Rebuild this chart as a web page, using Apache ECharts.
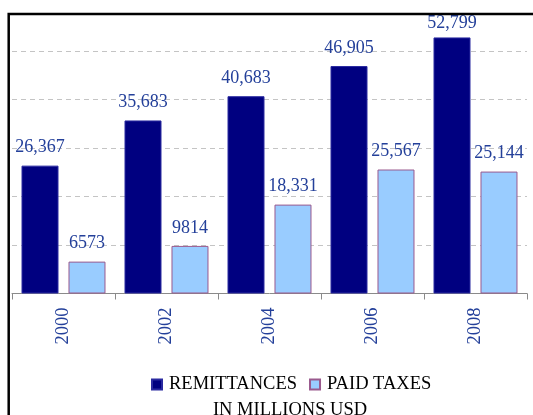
<!DOCTYPE html>
<html>
<head>
<meta charset="utf-8">
<script src="https://cdn.jsdelivr.net/npm/echarts@6/dist/echarts.min.js"></script>
<style>
html,body{margin:0;padding:0;background:#fff;}
#chart{width:533px;height:415px;}
</style>
</head>
<body>
<div id="chart"></div>
<script>
var categories = ['2000', '2002', '2004', '2006', '2008'];
var remittances = [26367, 35683, 40683, 46905, 52799];
var paidTaxes = [6573, 9814, 18331, 25567, 25144];
var seriesNames = ['REMITTANCES', 'PAID TAXES'];
var subtitle = 'IN MILLIONS USD';

var serif = '"Liberation Serif", "DejaVu Serif", serif';
var labelBlue = '#24409a';

function fmt(p) {
  var v = p.value;
  return v >= 10000 ? v.toLocaleString('en-US') : String(v);
}

// last remittance label sits closer to its bar (squeezed under the frame)
var remData = remittances.map(function (v, i) {
  return i === remittances.length - 1 ? {value: v, label: {distance: 5}} : v;
});

var chart = echarts.init(document.getElementById('chart'), null, {renderer: 'canvas'});
chart.setOption({
  animation: false,
  backgroundColor: '#ffffff',
  grid: {left: 12, right: 6, top: 13.2, bottom: 121.5, containLabel: false},
  xAxis: {
    type: 'category',
    data: categories,
    axisLine: {show: true, lineStyle: {color: '#8a8a8a', width: 1}},
    axisTick: {show: true, length: 6, lineStyle: {color: '#8a8a8a'}},
    axisLabel: {rotate: 90, margin: 14, color: labelBlue, fontFamily: serif, fontSize: 18.5}
  },
  yAxis: {
    type: 'value',
    min: 0,
    max: 57800,
    interval: 10000,
    axisLine: {show: false},
    axisTick: {show: false},
    axisLabel: {show: false},
    splitLine: {show: true, lineStyle: {color: '#c4c4c4', type: [5, 4], width: 1}}
  },
  legend: {
    data: seriesNames,
    left: 146,
    top: 370,
    itemWidth: 10,
    itemHeight: 10,
    itemGap: 12,
    icon: 'rect',
    textStyle: {color: '#000', fontFamily: serif, fontSize: 18.5, padding: [0, 0, 0, 2]}
  },
  title: {
    text: subtitle,
    left: 285,
    textAlign: 'center',
    top: 396,
    textStyle: {color: '#000', fontFamily: serif, fontSize: 18.5, fontWeight: 'normal'}
  },
  series: [
    {
      name: seriesNames[0],
      type: 'bar',
      data: remData,
      barWidth: 37,
      barGap: '27%',
      itemStyle: {color: '#000080', borderColor: '#2a2aa0', borderWidth: 1},
      label: {show: true, position: 'top', distance: 9, color: labelBlue, fontFamily: serif, fontSize: 18, formatter: fmt}
    },
    {
      name: seriesNames[1],
      type: 'bar',
      data: paidTaxes,
      barWidth: 37,
      itemStyle: {color: '#99ccff', borderColor: '#9a5a8e', borderWidth: 1},
      label: {show: true, position: 'top', distance: 9, color: labelBlue, fontFamily: serif, fontSize: 18, formatter: fmt}
    }
  ],
  graphic: [
    {
      type: 'rect',
      z: 100,
      silent: true,
      shape: {x: 8.7, y: 13.9, width: 700, height: 600},
      style: {fill: null, stroke: '#000', lineWidth: 2.5}
    }
  ]
});
</script>
</body>
</html>
